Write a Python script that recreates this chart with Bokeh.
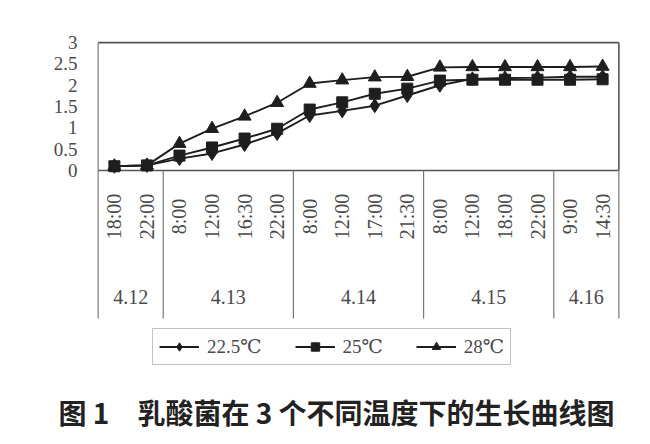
import math
from bokeh.plotting import figure
from bokeh.models import (Range1d, FixedTicker, Legend, LegendItem, Title, ColumnDataSource)
from bokeh.core.properties import value
from bokeh.embed import file_html
from bokeh.resources import INLINE

# ---- data ----
times = ["18:00", "22:00", "8:00", "12:00", "16:30", "22:00", "8:00", "12:00",
         "17:00", "21:30", "8:00", "12:00", "18:00", "22:00", "9:00", "14:30"]
dates = ["4.12", "4.13", "4.14", "4.15", "4.16"]
date_counts = [2, 4, 4, 4, 2]
series_names = ["22.5℃", "25℃", "28℃"]
s225 = [0.10, 0.12, 0.28, 0.40, 0.61, 0.87, 1.29, 1.40, 1.52, 1.76, 2.00, 2.15, 2.17, 2.18, 2.20, 2.20]
s25 = [0.10, 0.12, 0.35, 0.54, 0.75, 0.98, 1.43, 1.60, 1.80, 1.92, 2.11, 2.13, 2.13, 2.13, 2.13, 2.14]
s28 = [0.10, 0.12, 0.63, 0.98, 1.27, 1.59, 2.04, 2.12, 2.19, 2.20, 2.42, 2.43, 2.43, 2.43, 2.43, 2.44]
y_ticks = [0, 0.5, 1, 1.5, 2, 2.5, 3]
y_tick_labels = ["0", "0.5", "1", "1.5", "2", "2.5", "3"]
title_text = "图\u00a01\u3000乳酸菌在\u00a03\u00a0个不同温度下的生长曲线图"

# ---- layout constants ----
W, H = 650, 444
TEXT_GRAY = "#4a4a4a"
LINE_DARK = "#1e1e1e"
SERIF = "'Liberation Serif', 'DejaVu Serif', serif"

n = len(times)
xs = [i + 0.5 for i in range(n)]

p = figure(width=W, height=H, output_backend="svg", toolbar_location=None,
           x_range=Range1d(-0.05, n + 0.05), y_range=Range1d(-4.927, 3.05),
           x_axis_location=None, min_border_left=96, min_border_right=30,
           min_border_top=40, min_border_bottom=64)
p.outline_line_color = None
p.grid.visible = False
p.background_fill_color = "white"
p.border_fill_color = "white"

ya = p.yaxis[0]
ya.ticker = FixedTicker(ticks=y_ticks)
ya.major_label_overrides = {t: l for t, l in zip(y_ticks, y_tick_labels)}
ya.axis_line_color = None
ya.major_tick_line_color = None
ya.minor_tick_line_color = None
ya.major_tick_out = 0
ya.major_label_standoff = 19
ya.major_label_text_font = SERIF
ya.major_label_text_font_size = "19px"
ya.major_label_text_color = TEXT_GRAY

# ---- frame / table lines ----
bottom = -3.47
p.segment(x0=[0, 0, n], y0=[3, 0, 0], x1=[n, n, n], y1=[3, 0, 3],
          line_color="#555555", line_width=1.6)
bounds = [0]
for c in date_counts:
    bounds.append(bounds[-1] + c)
p.segment(x0=bounds, y0=[3 if b == 0 else 0 for b in bounds], x1=bounds,
          y1=[bottom] * len(bounds), line_color="#777777", line_width=1.2)

# ---- series ----
src = ColumnDataSource(dict(x=xs, a=s225, b=s25, c=s28))
l1 = p.line("x", "a", source=src, line_color=LINE_DARK, line_width=1.9)
m1 = p.scatter("x", "a", source=src, marker="diamond", size=14,
               fill_color=LINE_DARK, line_color=LINE_DARK)
l2 = p.line("x", "b", source=src, line_color=LINE_DARK, line_width=1.9)
m2 = p.scatter("x", "b", source=src, marker="square", size=11,
               fill_color=LINE_DARK, line_color=LINE_DARK)
l3 = p.line("x", "c", source=src, line_color=LINE_DARK, line_width=1.9)
m3 = p.scatter("x", "c", source=src, marker="triangle", size=13,
               fill_color=LINE_DARK, line_color=LINE_DARK)

# ---- category labels ----
p.text(x=xs, y=[-1.08] * n, text=times, angle=math.pi / 2,
       text_align="center", text_baseline="middle",
       text_font=value(SERIF), text_font_size="20px", text_color=TEXT_GRAY)
date_x = [(bounds[i] + bounds[i + 1]) / 2 for i in range(len(dates))]
p.text(x=date_x, y=[-2.96] * len(dates), text=dates,
       text_align="center", text_baseline="middle",
       text_font=value(SERIF), text_font_size="20px", text_color=TEXT_GRAY)

# ---- legend ----
legend = Legend(items=[LegendItem(label=series_names[0], renderers=[l1, m1]),
                       LegendItem(label=series_names[1], renderers=[l2, m2]),
                       LegendItem(label=series_names[2], renderers=[l3, m3])],
                orientation="horizontal", location=(56, 15),
                glyph_width=40, glyph_height=21, label_height=21,
                label_standoff=8, spacing=33, padding=6, margin=0,
                label_text_font=SERIF, label_text_font_size="19px",
                label_text_color=TEXT_GRAY,
                border_line_color="#888888", border_line_width=1.2,
                background_fill_alpha=0)
p.add_layout(legend, "center")

# ---- caption ----
p.add_layout(Title(text=title_text, align="left", offset=-38, standoff=20,
                   text_font="Noto Sans CJK SC", text_font_style="bold",
                   text_font_size="28px", text_color="#222222",
                   vertical_align="middle"), "below")

open("out.html", "w").write(file_html(p, INLINE))
